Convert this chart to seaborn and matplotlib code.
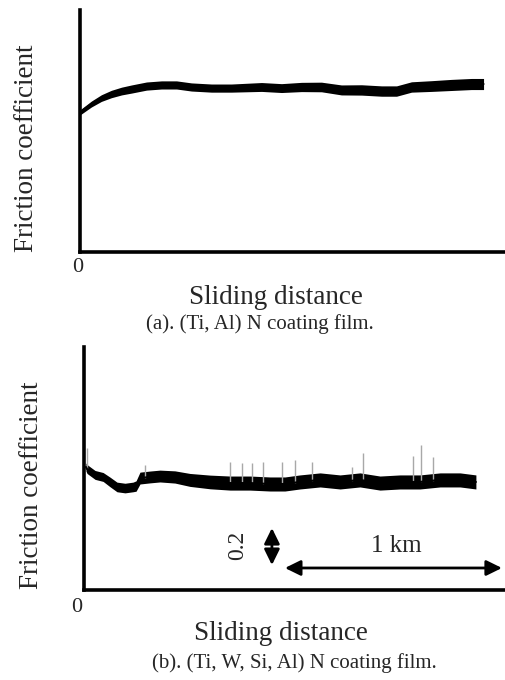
import matplotlib
matplotlib.use("Agg")
import matplotlib.pyplot as plt
import numpy as np
import seaborn as sns

# Panel (a): (Ti, Al) N film, distance in km, friction coefficient
dist_a = [0.005, 0.055, 0.101, 0.147, 0.194, 0.240, 0.309, 0.378, 0.447, 0.516,
          0.608, 0.700, 0.839, 0.931, 1.023, 1.115, 1.207, 1.300, 1.392, 1.461,
          1.530, 1.622, 1.714, 1.806, 1.862]
mu_a = [0.757, 0.800, 0.832, 0.854, 0.870, 0.881, 0.897, 0.903, 0.903, 0.892,
        0.886, 0.886, 0.892, 0.886, 0.892, 0.892, 0.876, 0.876, 0.870, 0.870,
        0.892, 0.897, 0.903, 0.908, 0.908]
# half thickness of the noisy trace
spread_a = [0.014, 0.016, 0.018, 0.020, 0.021, 0.022, 0.022, 0.022, 0.022, 0.022,
            0.022, 0.022, 0.024, 0.024, 0.025, 0.026, 0.027, 0.028, 0.028, 0.028,
            0.028, 0.029, 0.030, 0.030, 0.030]

# Panel (b): (Ti, W, Si, Al) N film
dist_b = [0.009, 0.014, 0.051, 0.088, 0.120, 0.152, 0.189, 0.226, 0.240, 0.258,
          0.304, 0.350, 0.419, 0.488, 0.581, 0.673, 0.765, 0.857, 0.926, 0.995,
          1.088, 1.180, 1.272, 1.364, 1.456, 1.548, 1.641, 1.733, 1.806]
mu_b = [0.665, 0.654, 0.622, 0.611, 0.584, 0.557, 0.551, 0.557, 0.562, 0.605,
        0.611, 0.616, 0.611, 0.595, 0.584, 0.578, 0.578, 0.573, 0.573, 0.584,
        0.595, 0.584, 0.595, 0.578, 0.584, 0.584, 0.595, 0.595, 0.584]
spread_b = [0.022, 0.024, 0.024, 0.024, 0.026, 0.026, 0.026, 0.026, 0.028, 0.032,
            0.032, 0.032, 0.033, 0.035, 0.037, 0.038, 0.038, 0.038, 0.038, 0.038,
            0.038, 0.038, 0.038, 0.038, 0.038, 0.038, 0.038, 0.038, 0.038]
# grey spikes above the trace
spike_x = [0.014, 0.281, 0.673, 0.728, 0.774, 0.825, 0.912, 0.972, 1.051, 1.235,
           1.286, 1.516, 1.553, 1.608]
spike_top = [0.768, 0.676, 0.692, 0.686, 0.686, 0.692, 0.692, 0.703, 0.692, 0.665,
             0.741, 0.724, 0.784, 0.719]

sns.set_theme(style="white")
plt.rcParams["font.family"] = ["Liberation Serif", "DejaVu Serif"]

W, H = 506, 680
fig = plt.figure(figsize=(W / 100, H / 100), dpi=100)


def make_axes(left, bottom, top):
    # pixel box -> figure fraction, axis runs to the right edge
    ax = fig.add_axes([left / W, 1 - bottom / H, (W - left) / W, (bottom - top) / H])
    for side in ["top", "right"]:
        ax.spines[side].set_visible(False)
    for side in ["left", "bottom"]:
        ax.spines[side].set_linewidth(2.6)
        ax.spines[side].set_color("black")
    ax.set_xticks([])
    ax.set_yticks([])
    ax.patch.set_alpha(0)
    return ax


# ---- panel (a)
ax1 = make_axes(79.5, 252, 10)
ax1.set_xlim(0, (W - 79.5) / 217)
ax1.set_ylim(0, 242 / 185)
lo = np.array(mu_a) - np.array(spread_a)
hi = np.array(mu_a) + np.array(spread_a)
ax1.fill_between(dist_a, lo, hi, color="black", lw=0)
sns.lineplot(x=dist_a, y=mu_a, ax=ax1, color="black", lw=1.5)
ax1.set_xlabel("")
ax1.set_ylabel("")

# ---- panel (b)
ax2 = make_axes(84, 590, 347)
ax2.set_xlim(0, (W - 84) / 217)
ax2.set_ylim(0, 243 / 185)
base = np.interp(spike_x, dist_b, mu_b)
ax2.vlines(spike_x, base, spike_top, color="#a8a8a8", lw=1.0)
lo = np.array(mu_b) - np.array(spread_b)
hi = np.array(mu_b) + np.array(spread_b)
ax2.fill_between(dist_b, lo, hi, color="black", lw=0)
sns.lineplot(x=dist_b, y=mu_b, ax=ax2, color="black", lw=1.5)
ax2.set_xlabel("")
ax2.set_ylabel("")

# scale markers
arrow = dict(arrowstyle="<|-|>,head_length=0.67,head_width=0.33", color="black",
             lw=2, mutation_scale=14, shrinkA=0, shrinkB=0)
ax2.annotate("", xy=(0.866, 0.335), xytext=(0.866, 0.135), arrowprops=arrow)
ax2.text(0.710, 0.243, "0.2", rotation=90, ha="center", va="center", fontsize=17)
ax2.annotate("", xy=(0.926, 0.119), xytext=(1.926, 0.119), arrowprops=arrow,
             annotation_clip=False)
ax2.text(1.438, 0.238, "1 km", ha="center", va="center", fontsize=18)

# labels and captions
def ftext(px, py, s, **kw):
    fig.text(px / W, 1 - py / H, s, ha="center", va="center", **kw)

ftext(27, 148, "Friction coefficient", rotation=90, fontsize=19.5)
ftext(78, 268, "0", fontsize=16)
ftext(276, 297, "Sliding distance", fontsize=19.5)
ftext(260, 324, "(a). (Ti, Al) N coating film.", fontsize=15)

ftext(32, 485, "Friction coefficient", rotation=90, fontsize=19.5)
ftext(77, 608, "0", fontsize=16)
ftext(281, 634, "Sliding distance", fontsize=19.5)
ftext(294, 663, "(b). (Ti, W, Si, Al) N coating film.", fontsize=15)

fig.savefig("out.png", dpi=100)
